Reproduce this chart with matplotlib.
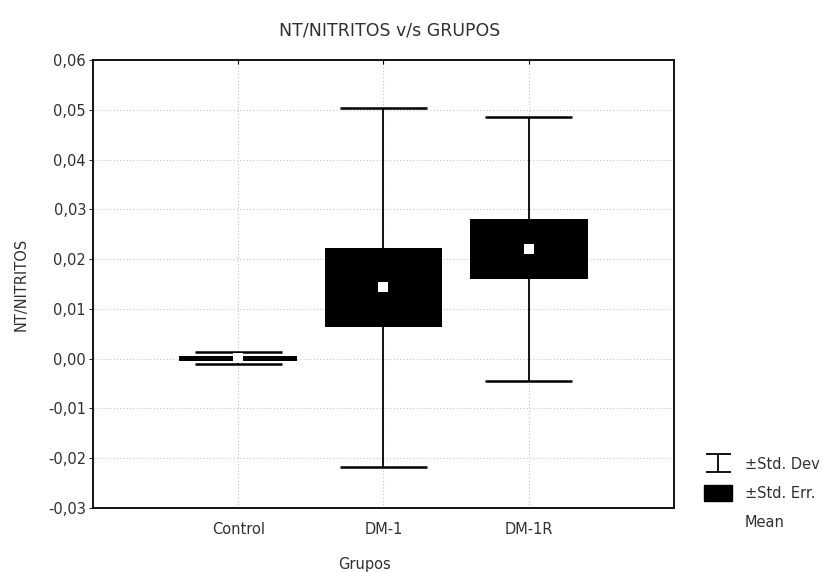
import numpy as np
import matplotlib
matplotlib.use("Agg")
import matplotlib.pyplot as plt
from matplotlib.path import Path
from matplotlib.lines import Line2D
from matplotlib.patches import Patch
from matplotlib.ticker import FuncFormatter

plt.rcParams['font.family'] = ['DejaVu Sans']

# data
groups = ["Control", "DM-1", "DM-1R"]
means = [0.0001, 0.0143, 0.0220]
std_err = [0.0005, 0.0080, 0.0060]
std_dev = [0.0012, 0.0360, 0.0265]

x = np.arange(len(groups))
means = np.array(means)
std_err = np.array(std_err)
std_dev = np.array(std_dev)

fs = 10.5
txt = "#303030"

fig = plt.figure(figsize=(8.3, 5.72), dpi=100)
ax = fig.add_axes([0.112, 0.112, 0.700, 0.783])

# whiskers (std dev) behind the boxes
ax.vlines(x, means - std_dev, means + std_dev, color="black", lw=1.3, zorder=2)
ax.hlines(means + std_dev, x - 0.3, x + 0.3, color="black", lw=1.8, zorder=2)
ax.hlines(means - std_dev, x - 0.3, x + 0.3, color="black", lw=1.8, zorder=2)

# boxes (std err)
ax.bar(x, 2 * std_err, bottom=means - std_err, width=0.81, color="black", zorder=3)

# means
ax.scatter(x, means, marker="s", s=50, color="white", zorder=4, linewidths=0)

ax.set_xlim(-1, 3)
ax.set_ylim(-0.03, 0.06)
ax.set_xticks(x)
ax.set_xticklabels(groups, fontsize=fs, color=txt)
ax.set_yticks(np.arange(-0.03, 0.0601, 0.01))
ax.yaxis.set_major_formatter(FuncFormatter(lambda v, p: f"{v:.2f}".replace(".", ",").replace("-0,00", "0,00")))
ax.tick_params(axis="y", labelsize=fs, length=3, colors=txt, pad=2)
ax.tick_params(axis="x", length=3, direction="in", top=True, bottom=False, labeltop=False, pad=10)
ax.grid(True, linestyle=(0, (1, 2)), color="#c4c4c4", lw=0.8, zorder=0)
ax.set_axisbelow(True)
for s in ax.spines.values():
    s.set_linewidth(1.3)

t = ax.set_title("NT/NITRITOS v/s GRUPOS", fontsize=12.5, pad=18, color=txt)
t.set_x(0.51)
ax.set_xlabel("Grupos", fontsize=fs, color=txt)
ax.xaxis.set_label_coords(0.468, -0.11)
ax.set_ylabel("NT/NITRITOS", fontsize=fs, color=txt)
ax.yaxis.set_label_coords(-0.111, 0.5)

# legend
sd_marker = Path([(-1, 0.72), (1, 0.72), (0, 0.72), (0, -0.72), (-1, -0.72), (1, -0.72)],
                 [Path.MOVETO, Path.LINETO, Path.MOVETO, Path.LINETO, Path.MOVETO, Path.LINETO])
handles = [
    Line2D([], [], marker=sd_marker, markersize=18, color="black", lw=0, markeredgewidth=1.3, markerfacecolor="none"),
    Patch(facecolor="black", edgecolor="black"),
    Line2D([], [], marker="s", color="white", lw=0),
]
fig.legend(handles, ["±Std. Dev", "±Std. Err.", "Mean"], loc="upper left",
           bbox_to_anchor=(0.848, 0.202), frameon=False, fontsize=fs,
           handlelength=1.9, handleheight=1.3, labelspacing=0.88, handletextpad=0.9,
           borderaxespad=0, borderpad=0, labelcolor=txt)

fig.savefig("out.png", dpi=100)
